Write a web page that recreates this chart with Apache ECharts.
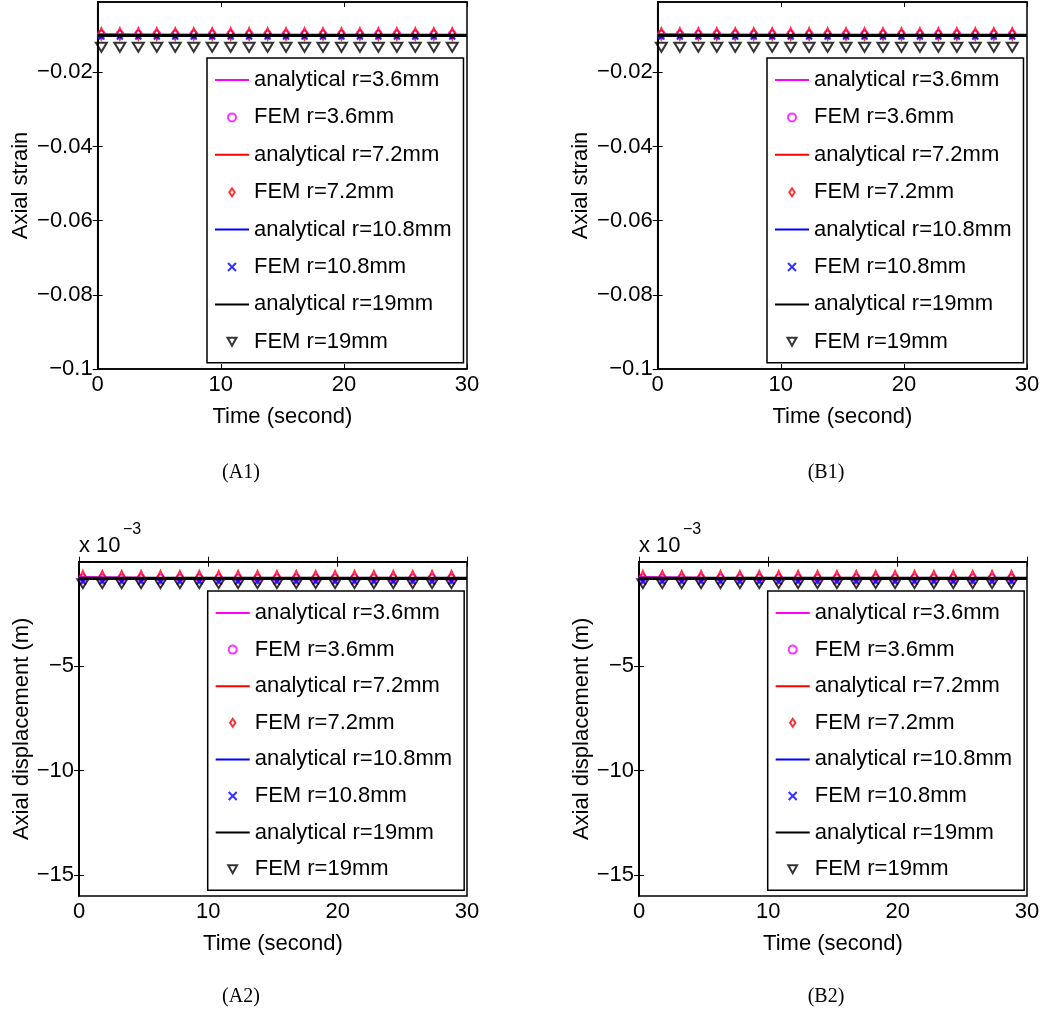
<!DOCTYPE html>
<html>
<head>
<meta charset="utf-8">
<script src="https://cdn.jsdelivr.net/npm/echarts@6/dist/echarts.min.js"></script>
<style>
  html, body { margin: 0; padding: 0; background: #fff; }
  #chart { width: 1046px; height: 1018px; }
</style>
</head>
<body>
<div id="chart"></div>
<script>
// ---- data -------------------------------------------------------------
const seriesNames = [
  'analytical r=3.6mm', 'FEM r=3.6mm',
  'analytical r=7.2mm', 'FEM r=7.2mm',
  'analytical r=10.8mm', 'FEM r=10.8mm',
  'analytical r=19mm', 'FEM r=19mm'
];
const timeAnalytical = [0, 5, 10, 15, 20, 25, 30];
const timeFem = [0.3, 1.8, 3.3, 4.8, 6.3, 7.8, 9.3, 10.8, 12.3, 13.8,
                 15.3, 16.8, 18.3, 19.8, 21.3, 22.8, 24.3, 25.8, 27.3, 28.8];
const timeTicks = [0, 10, 20, 30];
const strainTicks = [-0.1, -0.08, -0.06, -0.04, -0.02];
const dispTicks = [-15, -10, -5];
const captions = ['(A1)', '(B1)', '(A2)', '(B2)'];

// (A1) axial strain
const strainA_an36 = [-0.0098, -0.0099, -0.01, -0.01, -0.01, -0.01, -0.01];
const strainA_an72 = [-0.01, -0.01, -0.01, -0.01, -0.01, -0.01, -0.01];
const strainA_an108 = [-0.01, -0.01, -0.01, -0.01, -0.01, -0.01, -0.01];
const strainA_an19 = [-0.01, -0.01, -0.01, -0.01, -0.01, -0.01, -0.01];
const strainA_fem36 = [-0.0097, -0.0097, -0.0097, -0.0097, -0.0097, -0.0097, -0.0097, -0.0097, -0.0097, -0.0097,
                       -0.0097, -0.0097, -0.0097, -0.0097, -0.0097, -0.0097, -0.0097, -0.0097, -0.0097, -0.0097];
const strainA_fem72 = [-0.0096, -0.0096, -0.0096, -0.0096, -0.0096, -0.0096, -0.0096, -0.0096, -0.0096, -0.0096,
                       -0.0096, -0.0096, -0.0096, -0.0096, -0.0096, -0.0096, -0.0096, -0.0096, -0.0096, -0.0096];
const strainA_fem108 = [-0.0103, -0.0103, -0.0103, -0.0103, -0.0103, -0.0103, -0.0103, -0.0103, -0.0103, -0.0103,
                        -0.0103, -0.0103, -0.0103, -0.0103, -0.0103, -0.0103, -0.0103, -0.0103, -0.0103, -0.0103];
const strainA_fem19 = [-0.0132, -0.0132, -0.0132, -0.0132, -0.0132, -0.0132, -0.0132, -0.0132, -0.0132, -0.0132,
                       -0.0132, -0.0132, -0.0132, -0.0132, -0.0132, -0.0132, -0.0132, -0.0132, -0.0132, -0.0132];

// (B1) axial strain
const strainB_an36 = [-0.0098, -0.0099, -0.01, -0.01, -0.01, -0.01, -0.01];
const strainB_an72 = [-0.01, -0.01, -0.01, -0.01, -0.01, -0.01, -0.01];
const strainB_an108 = [-0.01, -0.01, -0.01, -0.01, -0.01, -0.01, -0.01];
const strainB_an19 = [-0.01, -0.01, -0.01, -0.01, -0.01, -0.01, -0.01];
const strainB_fem36 = [-0.0097, -0.0097, -0.0097, -0.0097, -0.0097, -0.0097, -0.0097, -0.0097, -0.0097, -0.0097,
                       -0.0097, -0.0097, -0.0097, -0.0097, -0.0097, -0.0097, -0.0097, -0.0097, -0.0097, -0.0097];
const strainB_fem72 = [-0.0096, -0.0096, -0.0096, -0.0096, -0.0096, -0.0096, -0.0096, -0.0096, -0.0096, -0.0096,
                       -0.0096, -0.0096, -0.0096, -0.0096, -0.0096, -0.0096, -0.0096, -0.0096, -0.0096, -0.0096];
const strainB_fem108 = [-0.0103, -0.0103, -0.0103, -0.0103, -0.0103, -0.0103, -0.0103, -0.0103, -0.0103, -0.0103,
                        -0.0103, -0.0103, -0.0103, -0.0103, -0.0103, -0.0103, -0.0103, -0.0103, -0.0103, -0.0103];
const strainB_fem19 = [-0.0132, -0.0132, -0.0132, -0.0132, -0.0132, -0.0132, -0.0132, -0.0132, -0.0132, -0.0132,
                       -0.0132, -0.0132, -0.0132, -0.0132, -0.0132, -0.0132, -0.0132, -0.0132, -0.0132, -0.0132];

// (A2) axial displacement, in units of 1e-3 m
const dispA_an36 = [-0.74, -0.78, -0.8, -0.8, -0.8, -0.8, -0.8];
const dispA_an72 = [-0.8, -0.8, -0.8, -0.8, -0.8, -0.8, -0.8];
const dispA_an108 = [-0.8, -0.8, -0.8, -0.8, -0.8, -0.8, -0.8];
const dispA_an19 = [-0.8, -0.8, -0.8, -0.8, -0.8, -0.8, -0.8];
const dispA_fem36 = [-0.78, -0.78, -0.78, -0.78, -0.78, -0.78, -0.78, -0.78, -0.78, -0.78,
                     -0.78, -0.78, -0.78, -0.78, -0.78, -0.78, -0.78, -0.78, -0.78, -0.78];
const dispA_fem72 = [-0.72, -0.72, -0.72, -0.72, -0.72, -0.72, -0.72, -0.72, -0.72, -0.72,
                     -0.72, -0.72, -0.72, -0.72, -0.72, -0.72, -0.72, -0.72, -0.72, -0.72];
const dispA_fem108 = [-0.95, -0.95, -0.95, -0.95, -0.95, -0.95, -0.95, -0.95, -0.95, -0.95,
                      -0.95, -0.95, -0.95, -0.95, -0.95, -0.95, -0.95, -0.95, -0.95, -0.95];
const dispA_fem19 = [-1.05, -1.05, -1.05, -1.05, -1.05, -1.05, -1.05, -1.05, -1.05, -1.05,
                     -1.05, -1.05, -1.05, -1.05, -1.05, -1.05, -1.05, -1.05, -1.05, -1.05];

// (B2) axial displacement, in units of 1e-3 m
const dispB_an36 = [-0.74, -0.78, -0.8, -0.8, -0.8, -0.8, -0.8];
const dispB_an72 = [-0.8, -0.8, -0.8, -0.8, -0.8, -0.8, -0.8];
const dispB_an108 = [-0.8, -0.8, -0.8, -0.8, -0.8, -0.8, -0.8];
const dispB_an19 = [-0.8, -0.8, -0.8, -0.8, -0.8, -0.8, -0.8];
const dispB_fem36 = [-0.78, -0.78, -0.78, -0.78, -0.78, -0.78, -0.78, -0.78, -0.78, -0.78,
                     -0.78, -0.78, -0.78, -0.78, -0.78, -0.78, -0.78, -0.78, -0.78, -0.78];
const dispB_fem72 = [-0.72, -0.72, -0.72, -0.72, -0.72, -0.72, -0.72, -0.72, -0.72, -0.72,
                     -0.72, -0.72, -0.72, -0.72, -0.72, -0.72, -0.72, -0.72, -0.72, -0.72];
const dispB_fem108 = [-0.95, -0.95, -0.95, -0.95, -0.95, -0.95, -0.95, -0.95, -0.95, -0.95,
                      -0.95, -0.95, -0.95, -0.95, -0.95, -0.95, -0.95, -0.95, -0.95, -0.95];
const dispB_fem19 = [-1.05, -1.05, -1.05, -1.05, -1.05, -1.05, -1.05, -1.05, -1.05, -1.05,
                     -1.05, -1.05, -1.05, -1.05, -1.05, -1.05, -1.05, -1.05, -1.05, -1.05];

// ---- styling ----------------------------------------------------------
const SANS = '"Liberation Sans", Arial, Helvetica, sans-serif';
const SERIF = '"Liberation Serif", "Times New Roman", serif';
const lineColors = ['#ff00ff', '#ff0000', '#0000ff', '#000000'];
// hollow markers: circle, tall diamond, x-cross, downward triangle
const femSymbols = [
  { symbol: 'circle', size: 7 },
  { symbol: 'path://M4,0L8,6L4,12L0,6Z', size: [8, 12] },
  { symbol: 'path://M0,0L10,10M10,0L0,10', size: 6 },
  { symbol: 'path://M0,0L10,0L5,9Z', size: [11, 10] }
];

const panels = [
  { grid: { left: 97.7, top: 2, width: 369.3, height: 367 },
    yName: 'Axial strain', yMin: -0.1, yMax: -0.001, yTicks: strainTicks, nameGapY: 66,
    legend: { left: 207, top: 58, gap: 15.4 },
    analytical: [strainA_an36, strainA_an72, strainA_an108, strainA_an19],
    fem: [strainA_fem36, strainA_fem72, strainA_fem108, strainA_fem19] },
  { grid: { left: 657.7, top: 2, width: 369.3, height: 367 },
    yName: 'Axial strain', yMin: -0.1, yMax: -0.001, yTicks: strainTicks, nameGapY: 66,
    legend: { left: 767, top: 58, gap: 15.4 },
    analytical: [strainB_an36, strainB_an72, strainB_an108, strainB_an19],
    fem: [strainB_fem36, strainB_fem72, strainB_fem108, strainB_fem19] },
  { grid: { left: 79, top: 561.7, width: 388, height: 334.3 },
    yName: 'Axial displacement (m)', yMin: -16, yMax: 0, yTicks: dispTicks, nameGapY: 46,
    legend: { left: 207.7, top: 591, gap: 14.6 },
    analytical: [dispA_an36, dispA_an72, dispA_an108, dispA_an19],
    fem: [dispA_fem36, dispA_fem72, dispA_fem108, dispA_fem19] },
  { grid: { left: 639, top: 561.7, width: 388, height: 334.3 },
    yName: 'Axial displacement (m)', yMin: -16, yMax: 0, yTicks: dispTicks, nameGapY: 46,
    legend: { left: 767.7, top: 591, gap: 14.6 },
    analytical: [dispB_an36, dispB_an72, dispB_an108, dispB_an19],
    fem: [dispB_fem36, dispB_fem72, dispB_fem108, dispB_fem19] }
];

const minusFmt = v => String(Math.round(v * 1000) / 1000).replace('-', '\u2212');
const zip = (xs, ys) => xs.map((x, i) => [x, ys[i]]);

// legend entries: analytical lines show only the line sample, no dot
const legendData = seriesNames.map((name, i) =>
  i % 2 === 0 ? { name: name, itemStyle: { opacity: 0 } } : { name: name });

const grids = [], xAxes = [], yAxes = [], series = [], legends = [];
const axisLineStyle = { color: '#000', width: 1.5 };
const tickStyle = { color: '#000', width: 1 };

panels.forEach((p, i) => {
  grids.push(Object.assign({ show: true, borderColor: '#000', borderWidth: 1.5,
                             backgroundColor: '#fff' }, p.grid));
  // bottom x-axis with labels
  xAxes.push({
    type: 'value', gridIndex: i, min: 0, max: 30, interval: 10, position: 'bottom',
    name: 'Time (second)', nameLocation: 'middle', nameGap: 37,
    nameTextStyle: { fontFamily: SANS, fontSize: 22, color: '#000' },
    axisLine: { show: true, lineStyle: axisLineStyle },
    axisTick: { show: true, inside: true, length: 5, lineStyle: tickStyle, customValues: timeTicks },
    axisLabel: { show: true, margin: 5, fontFamily: SANS, fontSize: 22, color: '#000',
                 customValues: timeTicks, formatter: minusFmt },
    splitLine: { show: false }
  });
  // mirrored ticks on the top edge
  xAxes.push({
    type: 'value', gridIndex: i, min: 0, max: 30, interval: 10, position: 'top',
    axisLine: { show: true, lineStyle: axisLineStyle },
    axisTick: { show: true, inside: true, length: 5, lineStyle: tickStyle, customValues: timeTicks },
    axisLabel: { show: false },
    splitLine: { show: false }
  });
  // left y-axis with labels
  yAxes.push({
    type: 'value', gridIndex: i, min: p.yMin, max: p.yMax, position: 'left',
    name: p.yName, nameLocation: 'middle', nameGap: p.nameGapY,
    nameTextStyle: { fontFamily: SANS, fontSize: 22, color: '#000' },
    axisLine: { show: true, lineStyle: axisLineStyle },
    axisTick: { show: true, inside: true, length: 5, lineStyle: tickStyle, customValues: p.yTicks },
    axisLabel: { show: true, margin: 5, fontFamily: SANS, fontSize: 22, color: '#000',
                 customValues: p.yTicks, formatter: minusFmt },
    splitLine: { show: false }
  });
  // mirrored ticks on the right edge
  yAxes.push({
    type: 'value', gridIndex: i, min: p.yMin, max: p.yMax, position: 'right',
    axisLine: { show: true, lineStyle: axisLineStyle },
    axisTick: { show: true, inside: true, length: 5, lineStyle: tickStyle, customValues: p.yTicks },
    axisLabel: { show: false },
    splitLine: { show: false }
  });

  for (let k = 0; k < 4; k++) {
    series.push({
      type: 'line', name: seriesNames[2 * k],
      xAxisIndex: 2 * i, yAxisIndex: 2 * i,
      data: zip(timeAnalytical, p.analytical[k]),
      symbol: 'none', showSymbol: false,
      lineStyle: { color: lineColors[k], width: k === 3 ? 3.2 : 2.5 },
      itemStyle: { color: lineColors[k] },
      silent: true, animation: false
    });
    const s = femSymbols[k];
    series.push({
      type: 'scatter', name: seriesNames[2 * k + 1],
      xAxisIndex: 2 * i, yAxisIndex: 2 * i,
      data: zip(timeFem, p.fem[k]),
      symbol: s.symbol, symbolSize: s.size, symbolKeepAspect: true,
      itemStyle: { color: 'rgba(255,255,255,0)', borderColor: lineColors[k], borderWidth: 2 },
      silent: true, animation: false
    });
  }

  legends.push({
    orient: 'vertical', left: p.legend.left, top: p.legend.top,
    padding: [11, 12, 10, 7], itemGap: p.legend.gap,
    itemWidth: 34, itemHeight: 8,
    backgroundColor: '#fff', borderColor: '#000', borderWidth: 1.5,
    textStyle: { fontFamily: SANS, fontSize: 22, color: '#000' },
    selectedMode: false, data: legendData
  });
});

// exponent marks for the displacement axes and panel captions
const graphics = [];
[79, 639].forEach(x0 => {
  graphics.push({ type: 'text', x: x0, y: 546,
    style: { text: 'x 10', font: '22px ' + SANS, fill: '#000',
             verticalAlign: 'middle', textVerticalAlign: 'middle' } });
  graphics.push({ type: 'text', x: x0 + 44, y: 530,
    style: { text: '\u22123', font: '16px ' + SANS, fill: '#000',
             verticalAlign: 'middle', textVerticalAlign: 'middle' } });
});
[[241, 473], [826, 473], [241, 997], [826, 997]].forEach((pos, i) => {
  graphics.push({ type: 'text', x: pos[0], y: pos[1],
    style: { text: captions[i], font: '20px ' + SERIF, fill: '#000',
             align: 'center', textAlign: 'center',
             verticalAlign: 'middle', textVerticalAlign: 'middle' } });
});

const chart = echarts.init(document.getElementById('chart'), null, { renderer: 'canvas' });
chart.setOption({
  animation: false,
  backgroundColor: '#fff',
  grid: grids,
  xAxis: xAxes,
  yAxis: yAxes,
  legend: legends,
  series: series,
  graphic: graphics
});
</script>
</body>
</html>
